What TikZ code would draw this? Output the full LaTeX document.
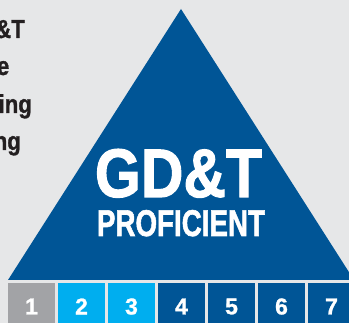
\documentclass[tikz,border=0pt]{standalone}
\usepackage{fontspec}
\setmainfont{Liberation Sans}
\newfontfamily\heavyfont{Liberation Sans}[BoldFeatures={FakeBold=1.6}]
\newfontfamily\semiheavyfont{Liberation Sans}[BoldFeatures={FakeBold=1.0}]
\usepackage{graphicx}
\definecolor{bg}{HTML}{E6E7E8}
\definecolor{dblue}{HTML}{005596}
\definecolor{lblue}{HTML}{00AEEF}
\definecolor{greybox}{HTML}{A2A3A6}
\definecolor{ink}{HTML}{231F20}
\tikzset{
  lefttext/.style={anchor=base east, inner sep=0pt, text=ink,
    font=\fontsize{26}{30}\selectfont\semiheavyfont\bfseries},
  bigtext/.style={anchor=base, inner sep=0pt, text=white, font=\heavyfont\bfseries},
  numtext/.style={inner sep=0pt, text=white, font=\fontsize{23}{28}\selectfont\semiheavyfont\bfseries},
  levelbox/.style={fill=#1}
}
\begin{document}
\begin{tikzpicture}[x=1pt,y=-1pt]
\useasboundingbox (0,0) rectangle (349,323);
\fill[bg] (0,0) rectangle (349,323);
\clip (0,0) rectangle (349,323);
% left text (cut off at left edge)
\node[lefttext] (l1) at (25,38) {\scalebox{0.85}[1]{\&T}};
\node[lefttext] (l2) at (9.5,75) {\scalebox{0.85}[1]{e}};
\node[lefttext] (l3) at (32,113) {\scalebox{0.85}[1]{ing}};
\node[lefttext] (l4) at (21,150) {\scalebox{0.85}[1]{ng}};
% triangle
\coordinate (apex) at (181,9);
\coordinate (bl) at (8,280);
\coordinate (br) at (354,280);
\fill[dblue] (apex) -- (bl) -- (br) -- cycle;
\node[bigtext] (gdt) at (178.5,197) {\resizebox{167pt}{48pt}{GD\&T}};
\node[bigtext] (prof) at (181,236) {\resizebox{168pt}{26pt}{PROFICIENT}};
% level boxes
\foreach \i/\c in {1/greybox,2/lblue,3/lblue,4/dblue,5/dblue,6/dblue,7/dblue}{
  \fill[levelbox=\c] ({8+50*(\i-1)},283) rectangle ({55+50*(\i-1)},323);
  \node[numtext] (n\i) at ({31.5+50*(\i-1)},306.5) {\i};
}
\end{tikzpicture}
\end{document}
